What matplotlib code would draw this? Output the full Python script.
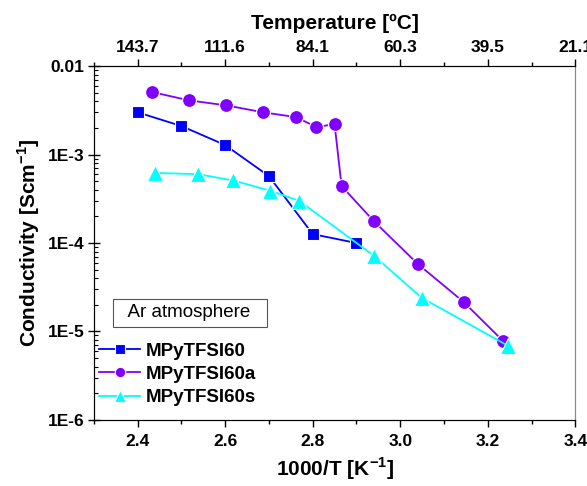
import numpy as np
import matplotlib.pyplot as plt
from matplotlib.ticker import LogLocator, FixedLocator, NullFormatter

plt.rcParams['font.family'] = ['Liberation Sans', 'DejaVu Sans']
plt.rcParams['mathtext.fontset'] = 'custom'
plt.rcParams['mathtext.rm'] = 'Liberation Sans'
plt.rcParams['mathtext.bf'] = 'Liberation Sans:bold'

# Datos
x_60 = [2.40, 2.50, 2.60, 2.70, 2.80, 2.90]
y_60 = [3.0e-3, 2.1e-3, 1.28e-3, 5.7e-4, 1.26e-4, 1.0e-4]

x_60a = [2.432, 2.517, 2.602, 2.687, 2.762, 2.808, 2.850, 2.866, 2.939, 3.040, 3.145, 3.235]
y_60a = [5.1e-3, 4.1e-3, 3.6e-3, 3.0e-3, 2.65e-3, 2.05e-3, 2.2e-3, 4.4e-4, 1.78e-4, 5.8e-5, 2.15e-5, 7.8e-6]

x_60s = [2.439, 2.538, 2.618, 2.703, 2.769, 2.941, 3.049, 3.246]
y_60s = [6.2e-4, 6.0e-4, 5.1e-4, 3.9e-4, 3.0e-4, 7.1e-5, 2.4e-5, 6.9e-6]

xticks = [2.4, 2.6, 2.8, 3.0, 3.2, 3.4]
temp_labels = ['143.7', '111.6', '84.1', '60.3', '39.5', '21.1']
yticks = [1e-6, 1e-5, 1e-4, 1e-3, 1e-2]
ytick_labels = ['1E-6', '1E-5', '1E-4', '1E-3', '0.01']
minor_x = [2.3, 2.5, 2.7, 2.9, 3.1, 3.3]

fig = plt.figure(figsize=(5.87, 4.86), dpi=100)
ax = fig.add_axes([0.160, 0.136, 0.820, 0.728])

ax.plot(x_60, y_60, '-s', color='#0000FF', lw=1.3, ms=9,
        mec='white', mew=0.8, label='MPyTFSI60')
ax.plot(x_60a, y_60a, '-o', color='#8000FF', lw=1.3, ms=10,
        mec='white', mew=0.8, label='MPyTFSI60a')
ax.plot(x_60s, y_60s, '-^', color='#00FFFF', lw=1.3, ms=11,
        mec='white', mew=0.8, label='MPyTFSI60s')

ax.set_yscale('log')
ax.set_xlim(2.3, 3.4)
ax.set_ylim(1e-6, 1e-2)
ax.set_xticks(xticks)
ax.set_xticklabels([f'{v:.1f}' for v in xticks], fontweight='bold', fontsize=12.5)
ax.xaxis.set_minor_locator(FixedLocator(minor_x))
ax.set_yticks(yticks)
ax.set_yticklabels(ytick_labels, fontweight='bold', fontsize=12.5)
ax.yaxis.set_minor_locator(LogLocator(base=10, subs=np.arange(2, 10)))
ax.yaxis.set_minor_formatter(NullFormatter())
ax.tick_params(axis='x', which='major', direction='out', length=5, width=1, pad=5)
ax.tick_params(axis='x', which='minor', direction='out', length=3, width=1)
ax.tick_params(axis='y', which='major', direction='inout', length=8, width=1, pad=3)
ax.tick_params(axis='y', which='minor', direction='in', length=3, width=0.8)
ax.spines['right'].set_color('#888888')

ax.set_xlabel(r'1000/T [K$^{\mathbf{-1}}$]', fontweight='bold', fontsize=15, labelpad=5)
ax.set_ylabel(r'Conductivity [Scm$^{\mathbf{-1}}$]', fontweight='bold', fontsize=15, labelpad=4)

# Eje superior con temperatura
ax2 = ax.twiny()
ax2.set_xlim(ax.get_xlim())
ax2.set_xticks(xticks)
ax2.set_xticklabels(temp_labels, fontweight='bold', fontsize=12.5)
ax2.xaxis.set_minor_locator(FixedLocator(minor_x))
ax2.tick_params(axis='x', which='major', direction='out', length=5, width=1, pad=3)
ax2.tick_params(axis='x', which='minor', direction='out', length=3, width=1)
ax2.set_xlabel('Temperature [ºC]', fontweight='bold', fontsize=15, labelpad=8)
ax2.spines['right'].set_color('#888888')

ax.text(2.519, 1.62e-5, '  Ar atmosphere  ', fontsize=13.5, ha='center', va='center',
        bbox=dict(boxstyle='square,pad=0.3', fc='white', ec='#555555', lw=0.8))

leg = ax.legend(loc='upper left', bbox_to_anchor=(-0.005, 0.24), frameon=False,
                prop={'weight': 'bold', 'size': 13.5}, handlelength=2.2,
                handletextpad=0.3, labelspacing=0.33, borderaxespad=0.0,
                markerscale=0.75)

plt.savefig('out.png', dpi=100)
